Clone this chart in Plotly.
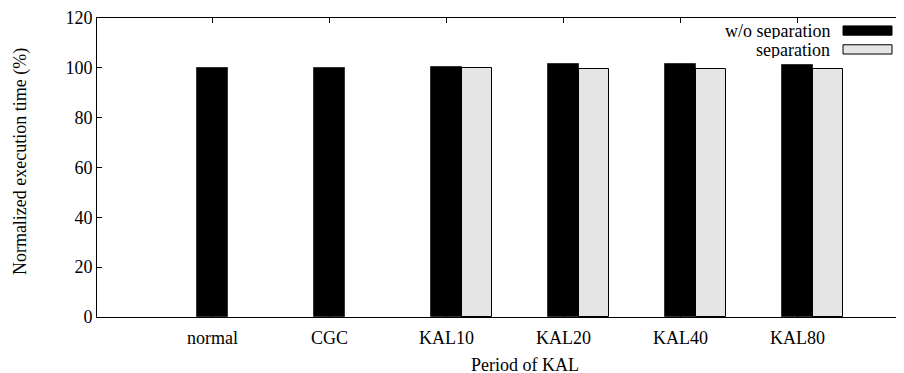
import plotly.graph_objects as go

categories = ["normal", "CGC", "KAL10", "KAL20", "KAL40", "KAL80"]
wo_separation = [100.0, 99.9, 100.3, 101.6, 101.6, 101.1]
separation = [None, None, 99.9, 99.7, 99.6, 99.5]
series_names = ["w/o separation", "separation"]
y_ticks = [0, 20, 40, 60, 80, 100, 120]

FONT = "Liberation Serif, Times New Roman, Times, serif"
FS = 18
pos = list(range(len(categories)))

fig = go.Figure()
fig.add_trace(go.Bar(
    x=pos, y=wo_separation, name=series_names[0], width=0.26, offset=-0.13,
    marker=dict(color="black", line=dict(color="#333333", width=1)),
    showlegend=False,
))
fig.add_trace(go.Bar(
    x=pos, y=separation, name=series_names[1], width=0.26, offset=0.13,
    marker=dict(color="#e5e5e5", line=dict(color="black", width=1)),
    showlegend=False,
))

# page body has an 8px default margin, compensate for it
fig.update_layout(
    width=896, height=365,
    margin=dict(l=89, r=0, t=8, b=56, pad=0),
    plot_bgcolor="white", paper_bgcolor="white",
    font=dict(family=FONT, size=FS, color="black"),
    barmode="overlay",
    bargap=0,
)
fig.update_xaxes(
    range=[-0.987, 5.91],
    tickvals=pos, ticktext=categories,
    ticks="inside", ticklen=5, tickcolor="black", tickwidth=1,
    showline=True, linecolor="black", linewidth=1, mirror="ticks",
    showgrid=False, zeroline=False,
    ticklabelstandoff=4,
    tickfont=dict(family=FONT, size=FS, color="black"),
)
fig.update_yaxes(
    range=[0, 120], tickvals=y_ticks,
    ticks="inside", ticklen=5, tickcolor="black", tickwidth=1,
    showline=True, linecolor="black", linewidth=1, mirror=False,
    showgrid=False, zeroline=False,
    ticklabeloverflow="allow",
    tickfont=dict(family=FONT, size=FS, color="black"),
)

# axis titles
fig.add_annotation(
    text="Period of KAL", xref="paper", yref="paper", x=0.530, y=0,
    yshift=-38, xanchor="center", yanchor="top", showarrow=False,
    height=17, borderpad=0,
    font=dict(family=FONT, size=FS, color="black"),
)
fig.add_annotation(
    text="Normalized execution time (%)", xref="paper", yref="paper",
    x=0, xshift=-77, y=0.518, xanchor="center", yanchor="middle",
    textangle=-90, showarrow=False,
    font=dict(family=FONT, size=FS, color="black"),
)

# legend (gnuplot style: text left of swatch)
legend_fill = ["black", "#e5e5e5"]
legend_y = [0.958, 0.895]
for name, fill, ly in zip(series_names, legend_fill, legend_y):
    fig.add_annotation(
        text=name, xref="paper", yref="paper", x=(831 - 97) / 807, y=ly,
        xanchor="right", yanchor="middle", showarrow=False,
        height=17, borderpad=0,
        font=dict(family=FONT, size=FS, color="black"),
    )
    fig.add_shape(
        type="rect", xref="paper", yref="paper",
        x0=(843 - 97) / 807, x1=(892 - 97) / 807,
        y0=ly - 0.0155, y1=ly + 0.0155,
        fillcolor=fill, line=dict(color="black", width=1),
    )

fig.write_html("out.html")
